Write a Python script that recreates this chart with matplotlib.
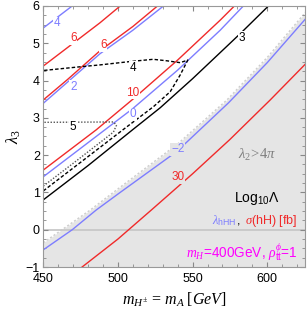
import matplotlib
matplotlib.use('Agg')
import matplotlib.pyplot as plt
from matplotlib.ticker import MultipleLocator

plt.rcParams['font.family'] = 'Liberation Sans'
plt.rcParams['mathtext.fontset'] = 'custom'
plt.rcParams['mathtext.rm'] = 'Liberation Serif'
plt.rcParams['mathtext.it'] = 'Liberation Serif:italic'
plt.rcParams['mathtext.sf'] = 'Liberation Sans'

red = '#f02a2a'
blue = '#7d7dff'
grey_fill = '#e5e5e5'

# contour lines (x = m_A in GeV, y = lambda_3)
blue4_x = [450, 470]
blue4_y = [5.41, 6.02]
red6a_x = [450, 470, 488, 501.5]
red6a_y = [4.39, 5.0, 5.55, 6.0]
red6b_x = [450, 466, 488, 510, 526.5]
red6b_y = [3.48, 4.02, 4.80, 5.45, 6.0]
blue2_x = [450, 466, 488, 510, 530.5]
blue2_y = [3.39, 3.95, 4.72, 5.35, 6.0]
red10_x = [450, 485.5, 510, 540, 568.5, 578]
red10_y = [1.60, 2.68, 3.50, 4.55, 5.62, 6.0]
blue0_x = [450, 491.3, 510, 540, 568.5, 584]
blue0_y = [1.42, 2.68, 3.25, 4.28, 5.35, 6.0]
black3_x = [450, 480, 509.8, 528.3, 550, 568.5, 583, 600.8]
black3_y = [0.80, 1.72, 2.68, 3.27, 4.05, 4.75, 5.30, 6.0]
dash4_x = [450, 478, 504, 523.8, 535, 541.7, 546.8, 541.7, 532.8, 523.6, 508.2, 488, 474.8, 450]
dash4_y = [1.04, 1.90, 2.70, 3.30, 3.70, 4.15, 4.55, 4.48, 4.53, 4.57, 4.51, 4.42, 4.37, 4.27]
dot5_x = [450, 470, 490, 497, 499, 497, 475, 450]
dot5_y = [1.17, 1.78, 2.40, 2.62, 2.80, 2.89, 2.885, 2.88]
blueM2_x = [450, 469.4, 485.5, 501.5, 539.5, 574, 600, 626]
blueM2_y = [-0.54, 0, 0.53, 1.0, 2.1, 3.40, 4.48, 5.67]
red30_x = [476, 500, 523, 550, 575, 602, 626]
red30_y = [-1, -0.25, 0.55, 1.5, 2.42, 3.48, 4.46]
# lambda_2 > 4 pi boundary
bound_x = [450, 481.5, 501.5, 540, 573, 600, 626]
bound_y = [-0.35, 0.53, 1.14, 2.30, 3.48, 4.62, 5.85]

# contour labels: text, x, y, colour
labels = [('4', 459.4, 5.54, blue), ('6', 470.1, 5.14, red), ('6', 490.2, 4.95, red),
          ('2', 470.1, 3.83, blue), ('4', 510.2, 4.34, 'black'), ('10', 510.2, 3.67, red),
          ('0', 510.2, 3.10, blue), ('5', 470.1, 2.76, 'black'), ('3', 583.2, 5.14, 'black'),
          ('\u22122', 540, 2.16, blue), ('30', 540, 1.41, red)]

fig = plt.figure(figsize=(3.07, 3.10), dpi=100)
ax = fig.add_axes([0.141, 0.1387, 0.851, 0.842])

ax.fill_between(bound_x, bound_y, -1, color=grey_fill, lw=0, zorder=0)
ax.plot(bound_x, bound_y, color='#cdcdcd', lw=1.0, ls=(0, (1.5, 1.5)), zorder=1)
ax.axhline(0, color='#c8c8c8', lw=1.3, zorder=1)

ax.plot(blue4_x, blue4_y, color=blue, lw=1)
ax.plot(red6a_x, red6a_y, color=red, lw=1)
ax.plot(red6b_x, red6b_y, color=red, lw=1)
ax.plot(blue2_x, blue2_y, color=blue, lw=1)
ax.plot(red10_x, red10_y, color=red, lw=1)
ax.plot(blue0_x, blue0_y, color=blue, lw=1)
ax.plot(black3_x, black3_y, color='black', lw=1)
ax.plot(dash4_x, dash4_y, color='black', lw=1, ls=(0, (2.5, 1.5)))
ax.plot(dot5_x, dot5_y, color='#555555', lw=1, ls=(0, (1, 1.2)))
ax.plot(blueM2_x, blueM2_y, color=blue, lw=1)
ax.plot(red30_x, red30_y, color=red, lw=1)

for txt, x, y, c in labels:
    bg = grey_fill if txt in ('\u22122', '30') else 'white'
    ax.text(x, y, txt, color=c, fontsize=8.5, ha='center', va='center',
            bbox=dict(boxstyle='square,pad=0.05', fc=bg, ec='none'), zorder=3)

ax.text(593, 2.0, r'$\lambda_2\!>\!4\pi$', color='#808080', fontsize=10.5, ha='center', va='center')
ax.text(593, 0.85, r'Log$_{\mathsf{10}}\mathsf{\Lambda}$', color='black', fontsize=10,
        ha='center', va='center')
ax.text(620.5, -0.6, r'$m_H$=400GeV, $\rho^{\phi}_{\mathsf{tt}}$=1', color='#ff00ff', fontsize=9.8,
        ha='right', va='center')

# multicolour legend line
t_sig = ax.text(620.5, 0.14, r'$\sigma$(hH) [fb]', color=red, fontsize=9, ha='right', va='baseline')
fig.canvas.draw()
inv = ax.transData.inverted()
bb = t_sig.get_window_extent()
x_left = inv.transform((bb.x0, bb.y0))[0]
t_com = ax.text(x_left, 0.14, ',', color='black', fontsize=9, ha='right', va='baseline')
fig.canvas.draw()
bb = t_com.get_window_extent()
x_left = inv.transform((bb.x0, bb.y0))[0]
ax.text(x_left, 0.14, r'$\lambda_{\mathsf{hHH}}$', color=blue, fontsize=9, ha='right', va='baseline')

ax.set_xlim(450, 625)
ax.set_ylim(-1, 6)
ax.set_xticks([450, 500, 550, 600])
ax.xaxis.set_minor_locator(MultipleLocator(10))
ax.yaxis.set_major_locator(MultipleLocator(1))
ax.yaxis.set_minor_locator(MultipleLocator(0.25))
ax.tick_params(which='both', direction='in', top=True, right=True, color='#888888')
ax.tick_params(which='major', length=3.5, labelsize=9)
ax.tick_params(which='minor', length=2)
ax.tick_params(axis='y', pad=2.5)
ax.tick_params(axis='x', pad=4.5)
for s in ax.spines.values():
    s.set_color('#999999')

ax.set_xlabel(r'$m_{H^{\pm}}\,=\,m_A\;[GeV]$', fontsize=11.5, labelpad=4)
ax.set_ylabel(r'$\lambda_3$', fontsize=12, labelpad=2)

fig.savefig('out.png', dpi=100)
